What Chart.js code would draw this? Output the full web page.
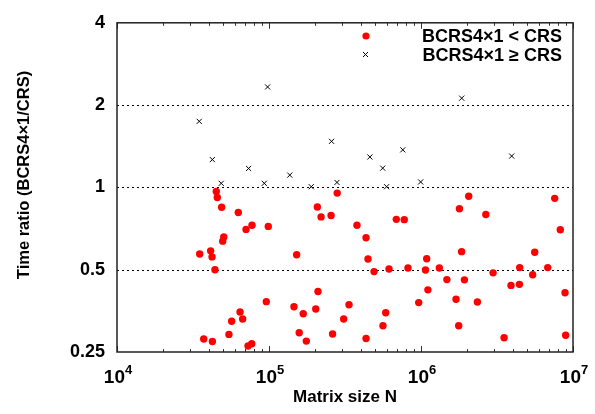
<!DOCTYPE html>
<html>
<head>
<meta charset="utf-8">
<script src="https://cdn.jsdelivr.net/npm/chart.js@4/dist/chart.umd.min.js"></script>
<style>
  html, body { margin: 0; padding: 0; background: #fff; }
  #wrap { width: 595px; height: 414px; }
</style>
</head>
<body>
<div id="wrap"><canvas id="c" width="595" height="414"></canvas></div>
<script>
// ---- data ----
const lessLabel = 'BCRS4×1 < CRS';
const geLabel = 'BCRS4×1 ≥ CRS';
const xTitle = 'Matrix size N';
const yTitle = 'Time ratio (BCRS4×1/CRS)';

// BCRS4x1 < CRS (red dots)
const lessN = [45000, 45700, 48800, 62800, 70600, 77300, 98900, 50400, 49600, 35000,
  41300, 42200, 44100, 152000, 96000, 146000, 64500, 67100, 56800, 54500,
  37200, 42400, 72800, 77000, 158000, 281000, 208000, 220000, 256000, 379000,
  435000, 448000, 491000, 616000, 688000, 776000, 821000, 1090000, 1070000, 1320000,
  1480000, 1110000, 966000, 1790000, 2060000, 2670000, 1850000, 1930000, 1700000, 2350000,
  1770000, 210000, 203000, 168000, 176000, 262000, 336000, 310000, 586000, 562000,
  435000, 7580000, 8250000, 5600000, 4460000, 6820000, 2980000, 5430000, 3910000, 4440000,
  8860000, 3520000, 8950000];
const lessRatio = [0.967, 0.918, 0.846, 0.809, 0.702, 0.727, 0.720, 0.659, 0.636, 0.571,
  0.586, 0.557, 0.500, 0.567, 0.382, 0.366, 0.350, 0.330, 0.324, 0.290,
  0.279, 0.273, 0.263, 0.268, 0.294, 0.953, 0.848, 0.780, 0.789, 0.727,
  0.654, 0.547, 0.492, 0.503, 0.764, 0.762, 0.507, 0.548, 0.499, 0.507,
  0.460, 0.422, 0.379, 0.835, 0.928, 0.796, 0.582, 0.459, 0.390, 0.381,
  0.312, 0.416, 0.359, 0.345, 0.274, 0.291, 0.372, 0.330, 0.348, 0.312,
  0.280, 0.912, 0.700, 0.579, 0.509, 0.509, 0.487, 0.479, 0.438, 0.442,
  0.412, 0.282, 0.288];

// BCRS4x1 >= CRS (black crosses)
const geN = [34750, 42400, 48500, 73400, 93100, 97900, 137000, 189700, 258000, 280000,
  461000, 560000, 594000, 759000, 995000, 1853000, 3950000];
const geRatio = [1.744, 1.264, 1.035, 1.173, 1.035, 2.33, 1.109, 1.006, 1.474, 1.043,
  1.292, 1.176, 1.006, 1.372, 1.047, 2.12, 1.302];

// axes
const xTickValues = [1e4, 1e5, 1e6, 1e7];
const xTickExponents = ['4', '5', '6', '7'];
const yTickValues = [0.25, 0.5, 1, 2, 4];
const yGridValues = [0.5, 1, 2];

const FONT = '"Liberation Sans", Arial, Helvetica, sans-serif';

function toPoints(xs, ys) { return xs.map((v, i) => ({ x: v, y: ys[i] })); }

const decor = {
  id: 'decor',
  beforeDatasetsDraw(chart) {
    const { ctx, chartArea: a, scales: { y } } = chart;
    ctx.save();
    ctx.strokeStyle = '#000';
    ctx.lineWidth = 1;
    ctx.setLineDash([2, 3]);
    for (const v of yGridValues) {
      const py = Math.round(y.getPixelForValue(v)) + 0.5;
      ctx.beginPath(); ctx.moveTo(a.left, py); ctx.lineTo(a.right, py); ctx.stroke();
    }
    ctx.restore();
  },
  afterDraw(chart) {
    const { ctx, chartArea: a, scales: { x } } = chart;
    ctx.save();
    // minor / major ticks, inward on bottom and top
    ctx.strokeStyle = '#333';
    ctx.lineWidth = 1;
    for (let d = 0; d < xTickValues.length; d++) {
      const base = xTickValues[d];
      for (let k = 1; k <= 9; k++) {
        const v = base * k;
        if (v > xTickValues[xTickValues.length - 1]) break;
        const px = Math.round(x.getPixelForValue(v)) + 0.5;
        const len = k === 1 ? 6 : 3;
        ctx.beginPath();
        ctx.moveTo(px, a.bottom); ctx.lineTo(px, a.bottom - len);
        ctx.moveTo(px, a.top); ctx.lineTo(px, a.top + len);
        ctx.stroke();
      }
    }
    // frame
    ctx.strokeStyle = '#222';
    ctx.lineWidth = 1.5;
    ctx.strokeRect(a.left, a.top, a.right - a.left, a.bottom - a.top);

    // x tick labels 10^n
    ctx.fillStyle = '#000';
    ctx.textBaseline = 'alphabetic';
    ctx.textAlign = 'left';
    const bigF = 'bold 19px ' + FONT, supF = 'bold 13px ' + FONT;
    xTickValues.forEach((v, i) => {
      const px = x.getPixelForValue(v);
      ctx.font = bigF; const w1 = ctx.measureText('10').width;
      ctx.font = supF; const w2 = ctx.measureText(xTickExponents[i]).width;
      const sx = px - (w1 + w2) / 2 + 1;
      ctx.font = bigF; ctx.fillText('10', sx, 383);
      ctx.font = supF; ctx.fillText(xTickExponents[i], sx + w1, 374);
    });

    // y title
    ctx.save();
    ctx.translate(24, 175);
    ctx.rotate(-Math.PI / 2);
    ctx.textAlign = 'center';
    ctx.textBaseline = 'middle';
    ctx.font = 'bold 16.5px ' + FONT;
    ctx.fillText(yTitle, 0, 0);
    ctx.restore();

    // legend
    ctx.font = 'bold 18px ' + FONT;
    ctx.textAlign = 'right';
    ctx.textBaseline = 'middle';
    ctx.fillStyle = '#000';
    ctx.fillText(lessLabel, 562, 37);
    ctx.fillText(geLabel, 562, 56);
    ctx.fillStyle = '#ff0000';
    ctx.beginPath(); ctx.arc(366, 36, 3.6, 0, Math.PI * 2); ctx.fill();
    ctx.strokeStyle = '#000'; ctx.lineWidth = 1;
    ctx.beginPath();
    ctx.moveTo(363, 52); ctx.lineTo(368, 57);
    ctx.moveTo(368, 52); ctx.lineTo(363, 57);
    ctx.stroke();
    ctx.restore();
  }
};

new Chart(document.getElementById('c'), {
  type: 'scatter',
  data: {
    datasets: [
      {
        label: lessLabel,
        data: toPoints(lessN, lessRatio),
        backgroundColor: '#ff0000',
        borderWidth: 0,
        pointRadius: 3.7,
        pointStyle: 'circle'
      },
      {
        label: geLabel,
        data: toPoints(geN, geRatio),
        borderColor: '#000',
        backgroundColor: '#000',
        borderWidth: 1,
        pointRadius: 3.6,
        pointStyle: 'crossRot'
      }
    ]
  },
  options: {
    responsive: false,
    devicePixelRatio: 1,
    animation: false,
    layout: { padding: { top: 20, right: 22, left: 0, bottom: 0 } },
    plugins: { legend: { display: false }, tooltip: { enabled: false } },
    scales: {
      x: {
        type: 'logarithmic',
        min: xTickValues[0],
        max: xTickValues[xTickValues.length - 1],
        grid: { display: false, drawTicks: false },
        border: { display: false },
        ticks: { display: false },
        afterBuildTicks: s => { s.ticks = xTickValues.map(v => ({ value: v, major: true })); },
        afterFit: s => { s.height = 62; },
        title: {
          display: true,
          text: xTitle,
          color: '#000',
          font: { family: FONT, size: 17, weight: 'bold' },
          padding: { top: 0, bottom: 6 }
        }
      },
      y: {
        type: 'logarithmic',
        min: yTickValues[0],
        max: yTickValues[yTickValues.length - 1],
        grid: { display: false, drawTicks: false },
        border: { display: false },
        afterBuildTicks: s => { s.ticks = yTickValues.map(v => ({ value: v })); },
        afterFit: s => { s.width = 117; },
        ticks: {
          color: '#000',
          padding: 12,
          font: { family: FONT, size: 18, weight: 'bold' },
          callback: v => String(v)
        }
      }
    }
  },
  plugins: [decor]
});
</script>
</body>
</html>
